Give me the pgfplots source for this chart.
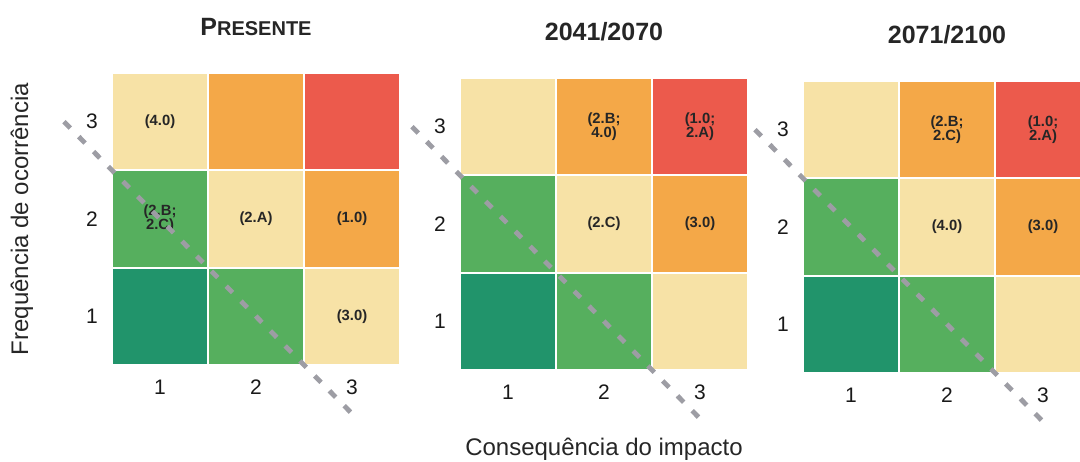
\documentclass[border=0pt]{standalone}
\usepackage{pgfplots}
\pgfplotsset{compat=1.18}
\usepackage{fontspec}
\setmainfont{Liberation Sans}
\definecolor{dgreen}{HTML}{21946B}
\definecolor{mgreen}{HTML}{56AF5E}
\definecolor{cream}{HTML}{F7E2A6}
\definecolor{orng}{HTML}{F4A848}
\definecolor{rred}{HTML}{EC5A4C}
\definecolor{dashc}{HTML}{9D9DA4}
\pgfplotsset{
 riskaxis/.style={
  scale only axis, width=144pt, height=146pt,
  xmin=0.5,xmax=3.5,ymin=0.5,ymax=3.5,
  xtick={1,2,3}, ytick={1,2,3},
  axis line style={draw=none}, major tick style={draw=none},
  /pgf/number format/assume math mode=true,
  ticklabel style={font=\fontsize{10.5}{12}\selectfont, text=black!90},
  xticklabel style={anchor=center, yshift=-11pt},
  yticklabel style={anchor=center, xshift=-10pt},
  title style={at={(0.5,1)}, anchor=base, yshift=13pt, font=\fontsize{12.5}{14}\selectfont\bfseries, text=black!85},
  clip=false,
  anchor=south west,
 },
 cell/.style={draw=white, line width=1pt, fill=#1},
 diag/.style={draw=dashc, line width=2.4pt, dash pattern=on 4.5pt off 6pt},
}
\tikzset{lbl/.style={font=\fontsize{7.4}{7}\selectfont\bfseries, text=black!85, align=center}}
\newcommand{\riskcells}{%
 \addplot[cell=dgreen] coordinates {(0.5,0.5) (1.5,0.5) (1.5,1.5) (0.5,1.5)} -- cycle;
 \addplot[cell=mgreen] coordinates {(1.5,0.5) (2.5,0.5) (2.5,1.5) (1.5,1.5)} -- cycle;
 \addplot[cell=cream]  coordinates {(2.5,0.5) (3.5,0.5) (3.5,1.5) (2.5,1.5)} -- cycle;
 \addplot[cell=mgreen] coordinates {(0.5,1.5) (1.5,1.5) (1.5,2.5) (0.5,2.5)} -- cycle;
 \addplot[cell=cream]  coordinates {(1.5,1.5) (2.5,1.5) (2.5,2.5) (1.5,2.5)} -- cycle;
 \addplot[cell=orng]   coordinates {(2.5,1.5) (3.5,1.5) (3.5,2.5) (2.5,2.5)} -- cycle;
 \addplot[cell=cream]  coordinates {(0.5,2.5) (1.5,2.5) (1.5,3.5) (0.5,3.5)} -- cycle;
 \addplot[cell=orng]   coordinates {(1.5,2.5) (2.5,2.5) (2.5,3.5) (1.5,3.5)} -- cycle;
 \addplot[cell=rred]   coordinates {(2.5,2.5) (3.5,2.5) (3.5,3.5) (2.5,3.5)} -- cycle;
}
\begin{document}
\begin{tikzpicture}
\begin{scope}
\clip (0,0) rectangle (540pt,-230.5pt);
\begin{axis}[riskaxis, at={(56pt,-182.5pt)},
  title={{\fontsize{12.5}{14}\selectfont P}{\fontsize{10}{12}\selectfont RESENTE}},
  ylabel={Frequência de ocorrência},
  ylabel style={at={(axis description cs:-0.3125,0.5)}, anchor=center, font=\fontsize{12}{14}\selectfont, text=black!85}]
\riskcells
\node[lbl] at (axis cs:1,3) {(4.0)};
\node[lbl] at (axis cs:1,2) {(2.B;\\2.C)};
\node[lbl] at (axis cs:2,2) {(2.A)};
\node[lbl] at (axis cs:3,2) {(1.0)};
\node[lbl] at (axis cs:3,1) {(3.0)};
\addplot[diag] coordinates {(0,3) (3,0)};
\end{axis}
\begin{axis}[riskaxis, at={(230pt,-185pt)},
  title={2041/2070},
  xlabel={Consequência do impacto},
  xlabel style={at={(axis description cs:0.5,-0.27)}, anchor=center, font=\fontsize{12}{14}\selectfont, text=black!85}]
\riskcells
\node[lbl] at (axis cs:2,3) {(2.B;\\4.0)};
\node[lbl] at (axis cs:3,3) {(1.0;\\2.A)};
\node[lbl] at (axis cs:2,2) {(2.C)};
\node[lbl] at (axis cs:3,2) {(3.0)};
\addplot[diag] coordinates {(0,3) (3,0)};
\end{axis}
\begin{axis}[riskaxis, at={(401.5pt,-186.5pt)},
  title={2071/2100}]
\riskcells
\node[lbl] at (axis cs:2,3) {(2.B;\\2.C)};
\node[lbl] at (axis cs:3,3) {(1.0;\\2.A)};
\node[lbl] at (axis cs:2,2) {(4.0)};
\node[lbl] at (axis cs:3,2) {(3.0)};
\addplot[diag] coordinates {(0,3) (3,0)};
\end{axis}
\end{scope}
\pgfresetboundingbox
\useasboundingbox (0,0) rectangle (540pt,-230.5pt);
\end{tikzpicture}
\end{document}
